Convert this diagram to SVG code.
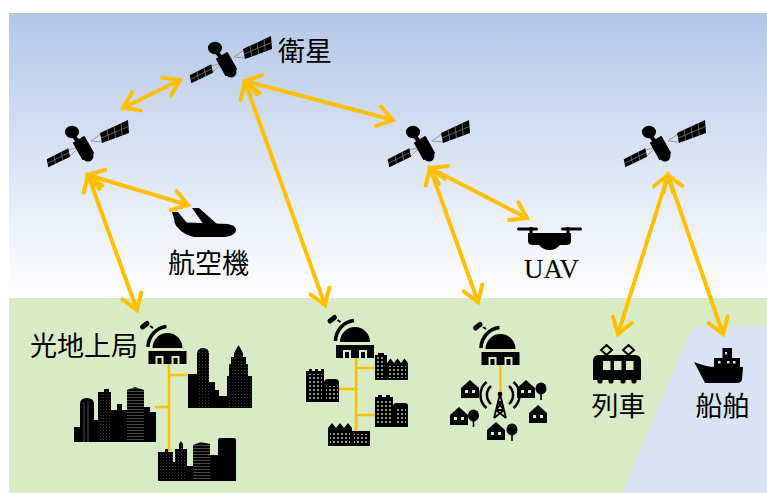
<svg xmlns="http://www.w3.org/2000/svg" width="767" height="493" viewBox="0 0 767 493">
  <defs>
    <linearGradient id="sky" x1="0" y1="0" x2="0" y2="1">
      <stop offset="0" stop-color="#b4c7e7"/>
      <stop offset="1" stop-color="#ffffff"/>
    </linearGradient>
    <!-- open chevron arrowhead -->
    <marker id="ah" markerUnits="userSpaceOnUse" viewBox="-20 -14 28 28" markerWidth="28" markerHeight="28" refX="0" refY="0" orient="auto-start-reverse" overflow="visible">
      <path d="M-15,-10 L0,0 L-15,10" fill="none" stroke="#ffc000" stroke-width="4" stroke-linecap="round"/>
    </marker>
    <!-- fine facade texture for skyline towers -->
    <pattern id="tex" width="3" height="3" patternUnits="userSpaceOnUse">
      <rect width="3" height="3" fill="#000"/>
      <rect x="1" y="1" width="1" height="1" fill="#3c3c3c"/>
    </pattern>
    <pattern id="stripe" width="3" height="3" patternUnits="userSpaceOnUse">
      <rect width="3" height="3" fill="#000"/>
      <rect x="0" y="1" width="3" height="1" fill="#4a4a4a"/>
    </pattern>
    <!-- window grid for small block icons -->
    <pattern id="win" width="4" height="4" patternUnits="userSpaceOnUse">
      <rect width="4" height="4" fill="#000"/>
      <rect x="1" y="1" width="2" height="2" fill="#8a9480"/>
    </pattern>
    <!-- satellite, origin at the dish centre -->
    <g id="sat">
      <path d="M-3,18 L7,15 M-2,24 L7,15 M29,2 L19,9 M30,10 L19,9" stroke="#9a9a9a" stroke-width="1" fill="none"/>
      <polygon points="-25.3,27.3 -3.7,16.3 -2,24.7 -23.7,35.3" fill="#000"/>
      <polygon points="28,1 56,-12 57,1 30,11" fill="#000"/>
      <path d="M-24.5,31.3 L-2.85,20.5 M-18.1,23.6 L-16.5,31.8 M-10.9,20 L-9.2,28.2 M29,6 L56.5,-5.5 M35,-2.25 L36.75,8.5 M42,-5.5 L43.5,6 M49,-8.75 L50.25,3.5" stroke="#8c8c8c" stroke-width="0.7" fill="none"/>
      <ellipse cx="0" cy="0" rx="7" ry="6.2" fill="#000"/>
      <path d="M1,3 L7,11" stroke="#000" stroke-width="4"/>
      <polygon points="2,11 12,5 21,21 11,27" fill="#000" stroke="#000" stroke-width="2" stroke-linejoin="round"/>
      <circle cx="16" cy="24" r="5.5" fill="#000"/>
    </g>
    <!-- ground station dome, origin at the top centre of the base -->
    <g id="dome">
      <rect x="-19" y="0" width="38" height="13" fill="#000"/>
      <rect x="-12" y="5" width="8" height="8" fill="#d9ebc4"/>
      <rect x="-10" y="7" width="4" height="6" fill="#000"/>
      <rect x="4" y="5" width="8" height="8" fill="#d9ebc4"/>
      <rect x="6" y="7" width="4" height="6" fill="#000"/>
      <path d="M-15,-3 A15,15 0 0 1 15,-3 Z" fill="#000"/>
      <path d="M-19.5,-4 A21,21 0 0 1 -1,-24.5" fill="none" stroke="#000" stroke-width="3.5"/>
      <path d="M-25,-24 L-20.5,-27.5" stroke="#000" stroke-width="5" stroke-linecap="round"/>
      <path d="M-17.5,-25 L-14.5,-23" stroke="#000" stroke-width="2"/>
    </g>
    <g id="house">
      <path d="M0,8 L9,0 L18,8 V18 H0 Z" fill="#000"/>
      <rect x="4" y="10" width="3" height="3" fill="#d9ebc4"/>
      <rect x="11" y="10" width="3" height="3" fill="#d9ebc4"/>
    </g>
    <g id="tree">
      <ellipse cx="0" cy="5.5" rx="5.5" ry="6" fill="#000"/>
      <rect x="-0.8" y="9" width="1.6" height="8" fill="#000"/>
    </g>
  </defs>

  <style>
    .lbl { font-family: "Noto Sans CJK JP", "Noto Sans", sans-serif; font-size: 27px; fill: #000; text-anchor: middle; }
    .uav { font-family: "Liberation Serif", serif; font-size: 27px; fill: #000; text-anchor: middle; }
    .link { stroke: #ffc000; stroke-width: 4; fill: none; marker-start: url(#ah); marker-end: url(#ah); }
    .feed { stroke: #ffc000; stroke-width: 2.5; fill: none; }
  </style>

  <!-- sky, land and sea -->
  <g id="background">
    <rect x="9" y="13" width="758" height="285" fill="url(#sky)"/>
    <rect x="9" y="298" width="758" height="195" fill="#d9ebc4"/>
    <polygon points="692,327 767,327 767,493 622,493" fill="#dae3f3"/>
  </g>

  <!-- links between nodes -->
  <g id="connectors">
    <line class="link" x1="123" y1="108" x2="180" y2="80"/>
    <line class="link" x1="245" y1="81" x2="393" y2="120"/>
    <line class="link" x1="245" y1="82" x2="325" y2="305"/>
    <line class="link" x1="88" y1="175" x2="188" y2="205"/>
    <line class="link" x1="88" y1="175" x2="137" y2="310"/>
    <line class="link" x1="430" y1="168" x2="527" y2="218"/>
    <line class="link" x1="430" y1="168" x2="478" y2="302"/>
    <line class="link" x1="668" y1="175" x2="618" y2="334"/>
    <line class="link" x1="668" y1="175" x2="723" y2="334"/>
    <path class="feed" d="M169,364 V452 M169,375 H190 M155,407 H169"/>
    <path class="feed" d="M356,358 V437 M356,368 H376 M338,389 H356 M356,415 H376"/>
    <path class="feed" d="M500.5,365 V394"/>
  </g>

  <g id="sat1"><use href="#sat" x="72" y="132"/></g>
  <g id="sat2">
    <use href="#sat" x="215" y="48"/>
    <text class="lbl" x="305" y="61">衛星</text>
  </g>
  <g id="sat3"><use href="#sat" x="413" y="132"/></g>
  <g id="sat4"><use href="#sat" x="649" y="132"/></g>

  <g id="airplane">
    <path d="M172,212 L178,212 L187,223 L176,226 Z" fill="#000"/>
    <path d="M192,208 L199,208 L217,224 L204,225 Z" fill="#000"/>
    <path d="M174,222 L228,224 Q237,226 236,231 Q234,236 225,237 L194,237 Q185,235 180,230 Z" fill="#000"/>
    <path d="M176,226 L188,228 L183,232 Z" fill="#000"/>
    <text class="lbl" x="208.5" y="273">航空機</text>
  </g>

  <g id="uav">
    <rect x="517" y="227.5" width="21" height="3" rx="1.5" fill="#000"/>
    <rect x="561" y="227.5" width="21" height="3" rx="1.5" fill="#000"/>
    <rect x="529.5" y="227" width="3" height="7" fill="#000"/>
    <rect x="566.5" y="227" width="3" height="7" fill="#000"/>
    <path d="M528,233 H571 V241 Q571,245 566,245 H560 Q556,250 549.5,250 Q543,250 539,245 H533 Q528,245 528,241 Z" fill="#000"/>
    <text class="uav" x="551.5" y="278">UAV</text>
  </g>

  <g id="station1">
    <use href="#dome" x="167.5" y="351"/>
    <text class="lbl" x="84" y="356">光地上局</text>
    <!-- skyline, upper right -->
    <rect x="188" y="374" width="10" height="34" fill="#000"/>
    <path d="M197,408 V354 Q197,348 203,348 Q209,348 209,354 V408 Z" fill="url(#tex)"/>
    <rect x="209" y="382" width="6" height="26" fill="#000"/>
    <rect x="215" y="390" width="4" height="18" fill="#000"/>
    <rect x="219" y="396" width="8" height="12" fill="#000"/>
    <path d="M227,408 V376 H229 V364 H231 V357 H234 V353 L238.5,345 L243,353 V357 H246 V364 H248 V376 H252 V408 Z" fill="url(#tex)"/>
    <!-- skyline, left -->
    <rect x="74" y="427" width="8" height="15" fill="#000"/>
    <path d="M80,442 V404 Q80,398 87,398 Q94,398 94,404 V442 Z" fill="#000"/>
    <path d="M84,402 V442 M88,401 V442" stroke="#666" stroke-width="0.8"/>
    <rect x="94" y="420" width="4" height="22" fill="#000"/>
    <path d="M98,442 V392 H104 V389 H109 V392 H111 V442 Z" fill="url(#tex)"/>
    <rect x="111" y="410" width="16" height="32" fill="#000"/>
    <rect x="117" y="404" width="5" height="6" fill="#000"/>
    <path d="M127,442 V390 L135,387 L144,390 V442 Z" fill="url(#stripe)"/>
    <path d="M144,442 V407 H150 V412 H156 V442 Z" fill="#000"/>
    <!-- skyline, bottom -->
    <path d="M158,481 V452 H165 V449 H168 V452 H173 V481 Z" fill="url(#tex)"/>
    <rect x="173" y="462" width="2" height="19" fill="#000"/>
    <path d="M175,481 V449 H179 V444 L181,441 L183,444 V449 H187 V481 Z" fill="url(#tex)"/>
    <rect x="187" y="466" width="6" height="15" fill="#000"/>
    <path d="M193,481 V445 L201,442 L210,444 V481 Z" fill="url(#stripe)"/>
    <rect x="210" y="455" width="8" height="26" fill="#000"/>
    <path d="M218,481 V440 Q218,438 220,438 H234 Q236,438 236,440 V481 Z" fill="#000"/>
  </g>

  <g id="station2">
    <use href="#dome" x="355" y="345"/>
    <!-- block A -->
    <path d="M375,380 V355 H378 V353 H384 V355 H387 V380 Z" fill="#000"/>
    <rect x="377" y="357" width="8" height="21" fill="url(#win)"/>
    <path d="M387,380 V363 L390.5,358.5 L394,363 L397.5,358.5 L401,363 L404.5,358.5 L408,363 V380 Z" fill="#000"/>
    <rect x="389" y="366" width="17" height="12" fill="url(#win)"/>
    <!-- block B -->
    <path d="M306,402 V371 H309 V369 H312 V371 H315 V369 H318 V371 H321 V369 H324 V402 Z" fill="#000"/>
    <rect x="307" y="374" width="15" height="26" fill="url(#win)"/>
    <path d="M324,402 V383 Q324,379 328,379 H335 Q339,379 339,383 V402 Z" fill="#000"/>
    <rect x="326" y="386" width="12" height="14" fill="url(#win)"/>
    <!-- block C -->
    <path d="M375,427 V397 H378 V395 H382 V397 H386 V395 H390 V397 H393 V427 Z" fill="#000"/>
    <rect x="377" y="399" width="14" height="26" fill="url(#win)"/>
    <path d="M393,427 V406 Q393,403 397,403 H405 Q408,403 408,406 V427 Z" fill="#000"/>
    <rect x="395" y="408" width="11" height="17" fill="url(#win)"/>
    <!-- block D -->
    <path d="M328,446 V428 L332,423 L336,428 L340,423 L344,428 L348,423 L352,428 V446 Z" fill="#000"/>
    <rect x="330" y="431" width="20" height="13" fill="url(#win)"/>
    <rect x="352" y="431" width="18" height="15" fill="#000"/>
    <rect x="354" y="434" width="14" height="10" fill="url(#win)"/>
  </g>

  <g id="station3">
    <use href="#dome" x="500.5" y="352"/>
    <!-- radio mast -->
    <path d="M500,394 L494,418 M500,394 L506,418 M497,402 H503 M496,410 H504 M497.5,402 L504,410 M502.5,402 L496,410 M496,410 L506,418 M504,410 L494,418" stroke="#000" stroke-width="1.8" fill="none"/>
    <circle cx="500" cy="394" r="2.3" fill="#000"/>
    <path d="M491,386 A12,12 0 0 0 491,404 M486.5,382 A17,17 0 0 0 486.5,408 M509,386 A12,12 0 0 1 509,404 M513.5,382 A17,17 0 0 1 513.5,408" stroke="#000" stroke-width="2.5" fill="none"/>
    <!-- houses and trees -->
    <use href="#house" x="461" y="380"/>
    <use href="#house" x="517" y="380"/>
    <use href="#tree" x="541" y="383"/>
    <use href="#house" x="450" y="407"/>
    <use href="#tree" x="473.5" y="410"/>
    <use href="#house" x="529" y="405"/>
    <use href="#house" x="487" y="422"/>
    <use href="#tree" x="512" y="424"/>
  </g>

  <g id="train">
    <path d="M606.5,345 L612,350 L606.5,355 L601,350 Z M628.5,345 L634,350 L628.5,355 L623,350 Z" fill="none" stroke="#000" stroke-width="2"/>
    <path d="M593,380 V361 Q593,355 599,355 H635 Q641,355 641,361 V380 Z" fill="#000"/>
    <rect x="603" y="361" width="7.5" height="9" fill="#d9ebc4"/>
    <rect x="614" y="361" width="7.5" height="9" fill="#d9ebc4"/>
    <rect x="626" y="361" width="7.5" height="9" fill="#d9ebc4"/>
    <circle cx="600" cy="381" r="2.6" fill="#000"/>
    <circle cx="611" cy="381" r="2.6" fill="#000"/>
    <circle cx="623" cy="381" r="2.6" fill="#000"/>
    <circle cx="634" cy="381" r="2.6" fill="#000"/>
    <text class="lbl" x="618.5" y="416">列車</text>
  </g>

  <g id="ship">
    <rect x="722.5" y="348" width="9.5" height="11" fill="#000"/>
    <rect x="714" y="358" width="26" height="10" fill="#000"/>
    <rect x="725" y="352" width="2" height="2.5" fill="#dae3f3"/>
    <rect x="718" y="361" width="2.5" height="2.5" fill="#dae3f3"/>
    <rect x="727" y="361" width="2.5" height="2.5" fill="#dae3f3"/>
    <rect x="733" y="361" width="2.5" height="2.5" fill="#dae3f3"/>
    <path d="M694,362 Q706,367 716,367 H743 L742,380 Q741,383 737,383 H705 Q700,373 694,362 Z" fill="#000"/>
    <text class="lbl" x="722.5" y="416">船舶</text>
  </g>
</svg>
